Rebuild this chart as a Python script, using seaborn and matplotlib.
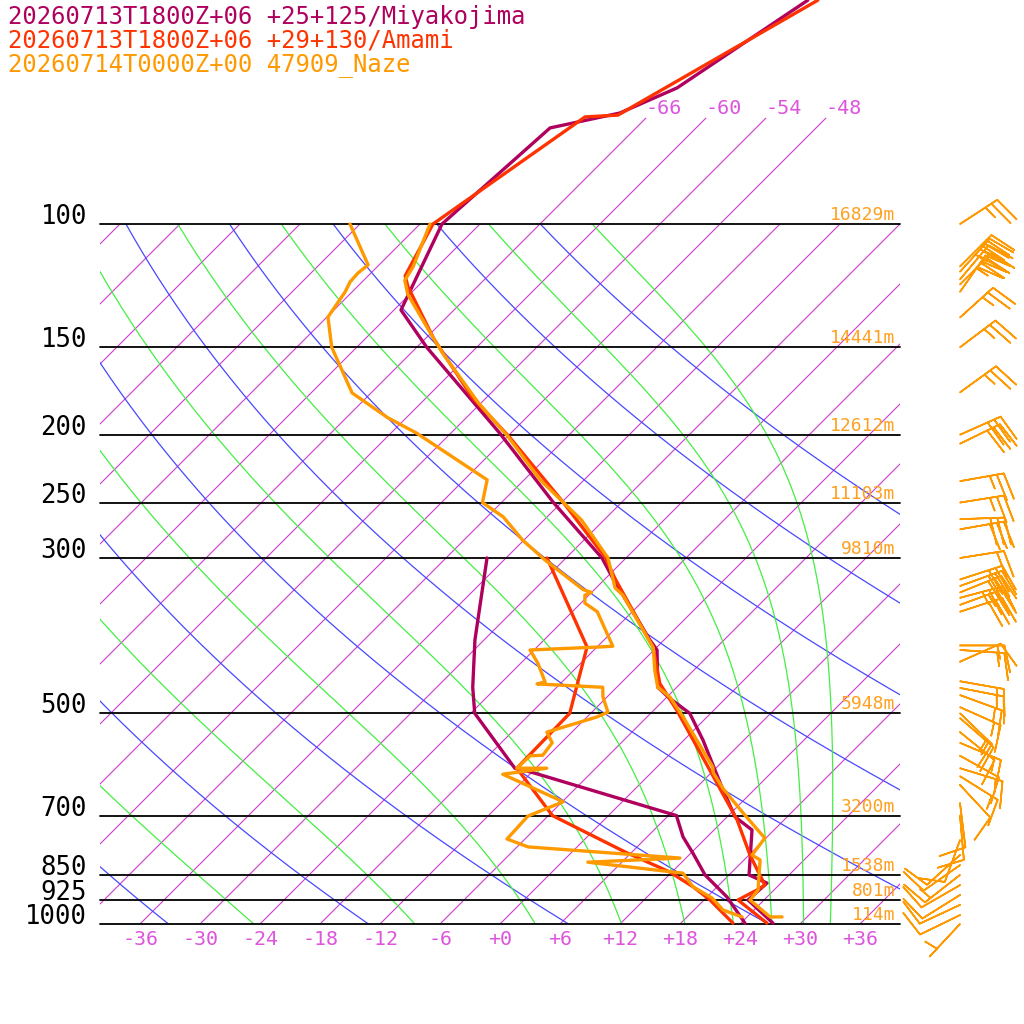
import numpy as np
import pandas as pd
import seaborn as sns
import matplotlib
matplotlib.use('Agg')
import matplotlib.pyplot as plt
from matplotlib.transforms import Bbox, TransformedBbox

sns.set_style('white')
plt.rcParams['font.family'] = ['DejaVu Sans Mono', 'DejaVu Sans']

# ---- soundings: pressure (hPa) / temperature (C) ----
miya_t_p = [47.9, 63.9, 69.4, 72.9, 100, 132.7, 150, 199, 250, 300, 322, 393, 406, 459, 476, 500, 546, 639, 703, 734, 851, 874, 924, 997]
miya_t = [-61.6, -65.9, -69.1, -74.6, -75.8, -71.3, -65.0, -49.1, -36.8, -26.4, -23.1, -13.4, -11.7, -7.9, -5.6, -2.1, 1.9, 8.6, 12.8, 15.8, 20.0, 22.6, 22.4, 27.2]
miya_td_p = [300, 393, 459, 500, 599, 608, 700, 751, 792, 851, 915, 997]
miya_td = [-37.9, -30.9, -26.4, -23.6, -14.1, -11.8, 6.8, 9.6, 12.2, 15.6, 20.0, 24.4]

amami_t_p = [47.9, 69.9, 70.3, 100, 118.6, 123, 146, 177, 201, 250, 299, 322, 402, 453, 495, 629, 710, 797, 880, 894, 924, 997]
amami_t = [-60.6, -69.1, -72.2, -76.7, -74.3, -72.9, -65.1, -55.4, -47.9, -35.8, -26.2, -22.9, -12.4, -8.1, -3.7, 7.6, 13.3, 18.1, 22.6, 22.3, 21.4, 26.6]
amami_td_p = [300, 402, 500, 599, 700, 789, 843, 885, 924, 997]
amami_td = [-31.9, -19.0, -14.1, -13.9, -5.6, 5.3, 11.8, 15.6, 18.6, 23.2]

naze_t_p = [100, 115.2, 120.3, 126, 143, 153, 180, 201, 232, 265, 300, 331, 339, 403, 434, 459, 474, 506, 597, 608, 641, 694, 754, 797, 810, 894, 924, 977, 977]
naze_t = [-77.0, -74.4, -73.9, -72.2, -66.1, -62.8, -54.3, -48.0, -40.4, -32.2, -25.8, -22.1, -20.6, -12.3, -9.9, -7.9, -5.7, -2.4, 5.6, 6.2, 8.8, 13.2, 17.9, 18.3, 19.6, 22.4, 22.6, 26.3, 27.5]
naze_td_p = [100, 114.4, 117.5, 121, 125, 135.8, 150, 174.3, 189, 199, 207, 232, 250, 262, 283, 302, 333, 336, 339, 348, 358,
             401, 402, 406, 424, 451, 454, 459, 474, 498, 506, 532, 551, 574, 575, 599, 599, 611, 669, 701, 756, 776, 805, 816, 846, 885, 918, 955, 977]
naze_td = [-85.0, -79.1, -79.3, -79.2, -78.7, -77.9, -74.5, -67.9, -61.9, -57.4, -54.4, -45.7, -43.9, -40.4, -36.1, -31.9, -25.1, -24.0, -24.4, -23.6, -21.5,
           -16.5, -17.7, -24.4, -22.3, -19.7, -20.3, -13.4, -12.4, -10.4, -11.0, -14.5, -12.9, -12.6, -13.8, -13.9, -10.9, -14.7, -5.9, -8.0, -7.8, -4.9, 11.4, 2.6, 13.2, 15.6, 18.6, 20.9, 23.5]

# Naze winds: pressure, direction (deg), speed (kt)
wind_p = [100, 115, 117, 120, 122, 125, 136, 150, 174, 200, 206, 233, 250, 264, 273, 300, 322, 329, 336, 342, 350, 358,
          400, 406, 422, 450, 460, 471, 490, 500, 508, 532, 551, 575, 599, 615, 633, 672, 700, 759, 797, 824, 851, 880, 909, 939, 971, 1000]
wind_dir = [57, 45, 42, 40, 45, 35, 48, 53, 54, 66, 64, 80, 81, 88, 80, 81, 72, 70, 68, 75, 70, 72,
            90, 94, 66, 100, 101, 110, 114, 134, 131, 129, 113, 119, 107, 122, 137, 173, 175, 200, 228, 235, 232, 240, 238, 245, 244, 223]
wind_spd = [25, 30, 35, 30, 35, 30, 25, 25, 25, 30, 30, 25, 25, 30, 30, 20, 30, 25, 30, 35, 25, 30,
            15, 15, 10, 15, 15, 15, 15, 15, 15, 10, 15, 10, 15, 15, 10, 10, 10, 10, 10, 10, 15, 10, 10, 10, 10, 5]

legend_lines = ['20260713T1800Z+06 +25+125/Miyakojima',
                '20260713T1800Z+06 +29+130/Amami',
                '20260714T0000Z+00 47909_Naze']
isobars = [100, 150, 200, 250, 300, 500, 700, 850, 925, 1000]
heights = ['16829m', '14441m', '12612m', '11103m', '9810m', '5948m', '3200m', '1538m', '801m', '114m']
temp_ticks = list(range(-36, 37, 6))
iso_top = [-66, -60, -54, -48]
theta_dry = list(range(240, 401, 20))
theta_moist = list(range(250, 411, 20))
theta_labels = list(range(310, 411, 10))

C_MIYA, C_AMAMI, C_NAZE = '#b0005e', '#ff3300', '#ff9900'
C_ISO, C_DRY, C_WET = '#cc3ccc', '#4848ff', '#44ee44'

K = 30.4          # skew of the diagram
KAPPA = 0.2857


def skew(t, p):
    return np.asarray(t, float) + K * np.log(1000.0 / np.asarray(p, float))


def moist_adiabat(theta_e, p):
    Rd, cp, Lv, eps = 287.04, 1005.7, 2.501e6, 0.622

    def f(T, pp):
        es = 6.112 * np.exp(17.67 * (T - 273.15) / (T - 29.65))
        rs = eps * es / (pp - es)
        return (Rd * T + Lv * rs) / (cp + Lv ** 2 * rs * eps / (Rd * T ** 2))

    lnp = np.log(p)
    T = theta_e * (p[0] / 1000.0) ** KAPPA
    out = [T]
    for i in range(1, len(p)):
        h = lnp[i] - lnp[i - 1]
        pm = np.exp(lnp[i - 1] + h / 2)
        k1 = f(T, p[i - 1])
        k2 = f(T + h * k1 / 2, pm)
        k3 = f(T + h * k2 / 2, pm)
        k4 = f(T + h * k3, p[i])
        T = T + h * (k1 + 2 * k2 + 2 * k3 + k4) / 6
        out.append(T)
    return np.array(out) - 273.15


fig = plt.figure(figsize=(10.24, 10.24), dpi=100)
ax = fig.add_axes([0, 0, 1, 1])
ax.set_yscale('log')
ax.set_xlim(-50, 52.4)
ax.set_ylim(1000 * np.exp(100 / 304.0), 1000 * np.exp(-924 / 304.0))
ax.axis('off')

box = plt.Rectangle((-40, 100), 80, 900, transform=ax.transData, fill=False)

# isotherms
for t in range(-114, 43, 6):
    ln, = ax.plot(skew([t, t], [1000, 100]), [1000, 100], color=C_ISO, lw=0.8)
    ln.set_clip_path(box)
for t in iso_top:
    ax.plot(skew([t, t], [100, 70.6]), [100, 70.6], color=C_ISO, lw=0.8)
    ax.text(skew(t, 70.6), 70.6, f'{t}', color='#dd55dd', fontsize=14.5, ha='left', va='bottom')

# dry and moist adiabats
pp = np.geomspace(100, 1000, 300)
for th in theta_dry:
    tt = th * (pp / 1000.0) ** KAPPA - 273.15
    ln, = ax.plot(skew(tt, pp), pp, color=C_DRY, lw=0.9)
    ln.set_clip_path(box)
for th in theta_moist:
    ln, = ax.plot(skew(moist_adiabat(th, pp), pp), pp, color=C_WET, lw=0.9)
    ln.set_clip_path(box)

lab_clip = TransformedBbox(Bbox([[-40, 110], [40, 60]]), ax.transData)
for th in theta_labels:
    x = skew(th * 0.1 ** KAPPA - 273.15, 100)
    col = '#5858ff' if th % 20 == 0 else '#58e858'
    tx = ax.text(x, 100, f'{th}', color=col, fontsize=12, ha='left', va='bottom')
    tx.set_clip_box(lab_clip)
    tx.set_clip_on(True)

# isobars
for p, h in zip(isobars, heights):
    ax.plot([-40, 40], [p, p], color='black', lw=1.3)
    ax.text(-41.3, p, f'{p}', fontsize=18.5, ha='right', va='baseline', color='black')
    ax.text(39.5, p, h, fontsize=13, ha='right', va='bottom', color='#ffa020')

for t in temp_ticks:
    lab = f'+{t}' if t >= 0 else f'{t}'
    ax.annotate(lab, (t, 1000), xytext=(0, -4), textcoords='offset points',
                ha='center', va='top', fontsize=14.4, color='#dd55dd')

# soundings
profiles = [(miya_t_p, miya_t, C_MIYA), (miya_td_p, miya_td, C_MIYA),
            (amami_t_p, amami_t, C_AMAMI), (amami_td_p, amami_td, C_AMAMI),
            (naze_t_p, naze_t, C_NAZE), (naze_td_p, naze_td, C_NAZE)]
for p, t, col in profiles:
    df = pd.DataFrame({'x': skew(t, p), 'p': p})
    sns.lineplot(data=df, x='x', y='p', sort=False, estimator=None, color=col,
                 lw=2.4, ax=ax, legend=False)
ax.set_yscale('log')
ax.set_xlim(-50, 52.4)
ax.set_ylim(1000 * np.exp(100 / 304.0), 1000 * np.exp(-924 / 304.0))
ax.axis('off')

# wind barbs
d = np.deg2rad(wind_dir)
u = -np.array(wind_spd) * np.sin(d)
v = -np.array(wind_spd) * np.cos(d)
ax.barbs(np.full(len(wind_p), 46.0), wind_p, u, v, color=C_NAZE, length=8, linewidth=1.2,
         sizes=dict(height=0.6, spacing=0.16))

for i, (s, col) in enumerate(zip(legend_lines, [C_MIYA, C_AMAMI, C_NAZE])):
    fig.text(8 / 1024, 1 - (17 + 24 * i) / 1024, s, color=col, fontsize=17.2, ha='left', va='center')

fig.savefig('out.png', dpi=100)
